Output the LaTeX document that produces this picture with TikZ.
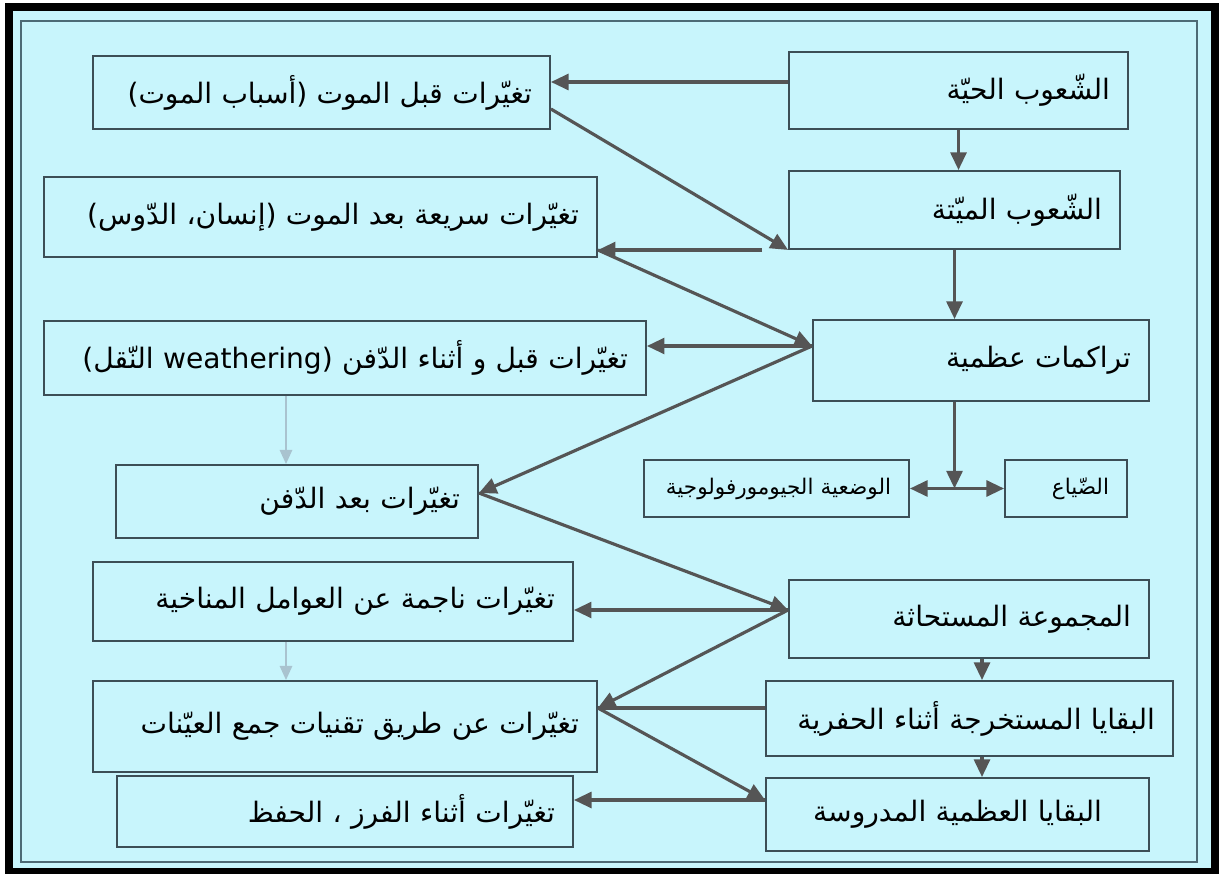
\documentclass[tikz,border=0pt]{standalone}
\usepackage{fontspec}
\usepackage{tikz}
\usetikzlibrary{calc,arrows.meta}
\TeXXeTstate=1
\newfontfamily\arabicfont[Script=Arabic]{DejaVu Sans}
\newcommand{\artext}[1]{\beginR #1\endR}
\definecolor{paper}{HTML}{C8F5FC}
\definecolor{rim}{HTML}{4D6A75}
\definecolor{edge}{HTML}{3C4E56}
\definecolor{wire}{HTML}{555555}
\definecolor{pale}{HTML}{A9C3CF}
\tikzset{
  box/.style={draw=edge, line width=1.1pt, rectangle, inner sep=0.36cm, align=right,
    font=\arabicfont\fontsize{16}{18}\selectfont},
  small/.style={box, font=\arabicfont\fontsize{12.25}{14}\selectfont},
  tip/.tip={Triangle[length=10pt,width=9pt]},
  flow/.style={draw=wire, line width=1.8pt, -tip},
  link/.style={draw=wire, line width=1.8pt},
  both/.style={draw=wire, line width=1.8pt, tip-tip},
  soft/.style={draw=pale, line width=1.1pt, -{Triangle[length=8pt,width=7pt]}}
}

\begin{document}
\begin{tikzpicture}[x=0.02cm, y=0.02cm]
  \useasboundingbox (0,0) rectangle (1219,-874);
  % frame
  \fill[white] (0,0) rectangle (1219,-874);
  \fill[black] (5,-3) rectangle (1219,-874);
  \fill[paper] (13,-11) rectangle (1211,-868);
  \draw[rim, line width=1.2pt] (21,-21) rectangle (1197,-862);

  % right column
  \node[box, text width=6.06cm, minimum height=1.54cm] (live) at (958.5,-90.5) {\artext{الشّعوب الحيّة}};
  \node[box, text width=5.90cm, minimum height=1.56cm] (dead) at (954.5,-210) {\artext{الشّعوب الميّتة}};
  \node[box, text width=6.00cm, minimum height=1.62cm] (accum) at (981,-360.5) {\artext{تراكمات عظمية}};
  \node[small, text width=4.58cm, minimum height=0.98cm] (geomorph) at (776.5,-488.5) {\artext{الوضعية الجيومورفولوجية}};
  \node[small, text width=1.72cm, minimum height=0.98cm] (loss) at (1066,-488.5) {\artext{الضّياع}};
  \node[box, text width=6.48cm, minimum height=1.56cm] (fossil) at (969,-619) {\artext{المجموعة المستحاثة}};
  \node[box, text width=7.42cm, minimum height=1.50cm] (excav) at (969.5,-718.5) {\artext{البقايا المستخرجة أثناء الحفرية}};
  \node[box, align=center, text width=6.94cm, minimum height=1.46cm] (studied) at (957.5,-814.5) {\artext{البقايا العظمية المدروسة}};

  % left column
  \node[box, text width=8.42cm, minimum height=1.46cm] (premort) at (321.5,-92.5) {\artext{تغيّرات قبل الموت (أسباب الموت)}};
  \node[box, text width=10.34cm, minimum height=1.60cm] (postmort) at (320.5,-217) {\artext{تغيّرات سريعة بعد الموت (إنسان، الدّوس)}};
  \node[box, text width=11.32cm, minimum height=1.48cm] (burial) at (345,-358) {\artext{تغيّرات قبل و أثناء الدّفن (\beginL weathering\endL{} النّقل)}};
  \node[box, text width=6.52cm, minimum height=1.46cm] (afterburial) at (297,-501.5) {\artext{تغيّرات بعد الدّفن}};
  \node[box, text width=8.88cm, minimum height=1.58cm] (climate) at (333,-601.5) {\artext{تغيّرات ناجمة عن العوامل المناخية}};
  \node[box, text width=9.36cm, minimum height=1.82cm] (sampling) at (345,-726.5) {\artext{تغيّرات عن طريق تقنيات جمع العيّنات}};
  \node[box, text width=8.40cm, minimum height=1.30cm] (sorting) at (345,-811.5) {\artext{تغيّرات أثناء الفرز ، الحفظ}};

  % meeting points on the box edges
  \coordinate (hubA) at ($(accum.west)+(0,14.5)$);
  \coordinate (hubD) at ($(afterburial.east)+(0,8.5)$);
  \coordinate (hubF) at ($(fossil.west)+(0,9)$);
  \coordinate (hubS) at ($(sampling.east)+(0,18.5)$);
  \coordinate (hubT) at ($(studied.west)+(0,14.5)$);
  \coordinate (gap) at (762,-250);
  \coordinate (fork) at (dead.south |- geomorph.east);
  \coordinate (drop1) at ($(fossil.south)+(13,0)$);
  \coordinate (drop2) at ($(excav.south)+(12.5,0)$);
  \coordinate (fade1) at ($(burial.south)+(-59,0)$);
  \coordinate (fade2) at ($(climate.south)+(-47,0)$);

  % vertical chain
  \draw[flow] (live.south) -- (live.south |- dead.north);
  \draw[flow] (dead.south) -- (dead.south |- accum.north);
  \draw[flow] (fork |- accum.south) -- (fork);
  \draw[both] (geomorph.east) -- (loss.west);
  \draw[flow] (drop1) -- (drop1 |- excav.north);
  \draw[flow] (drop2) -- (drop2 |- studied.north);

  % arrows between the columns
  \draw[flow] ($(live.west)+(0,8.5)$) -- ($(live.west -| premort.east)+(0,8.5)$);
  \draw[flow] ($(premort.east)+(0,-16.5)$) -- (dead.south west);
  \draw[flow] (gap) -- (gap -| postmort.east);
  \draw[flow] (gap -| postmort.east) -- (hubA);
  \draw[flow] (hubA) -- (hubA -| burial.east);
  \draw[flow] (hubA) -- (hubD);
  \draw[flow] (hubD) -- (hubF);
  \draw[flow] (hubF) -- (hubF -| climate.east);
  \draw[flow] (hubF) -- (hubS);
  \draw[link] (hubS -| excav.west) -- (hubS);
  \draw[flow] (hubS) -- (hubT);
  \draw[flow] (hubT) -- (hubT -| sorting.east);

  % pale arrows
  \draw[soft] (fade1) -- (fade1 |- afterburial.north);
  \draw[soft] (fade2) -- (fade2 |- sampling.north);
\end{tikzpicture}
\end{document}
